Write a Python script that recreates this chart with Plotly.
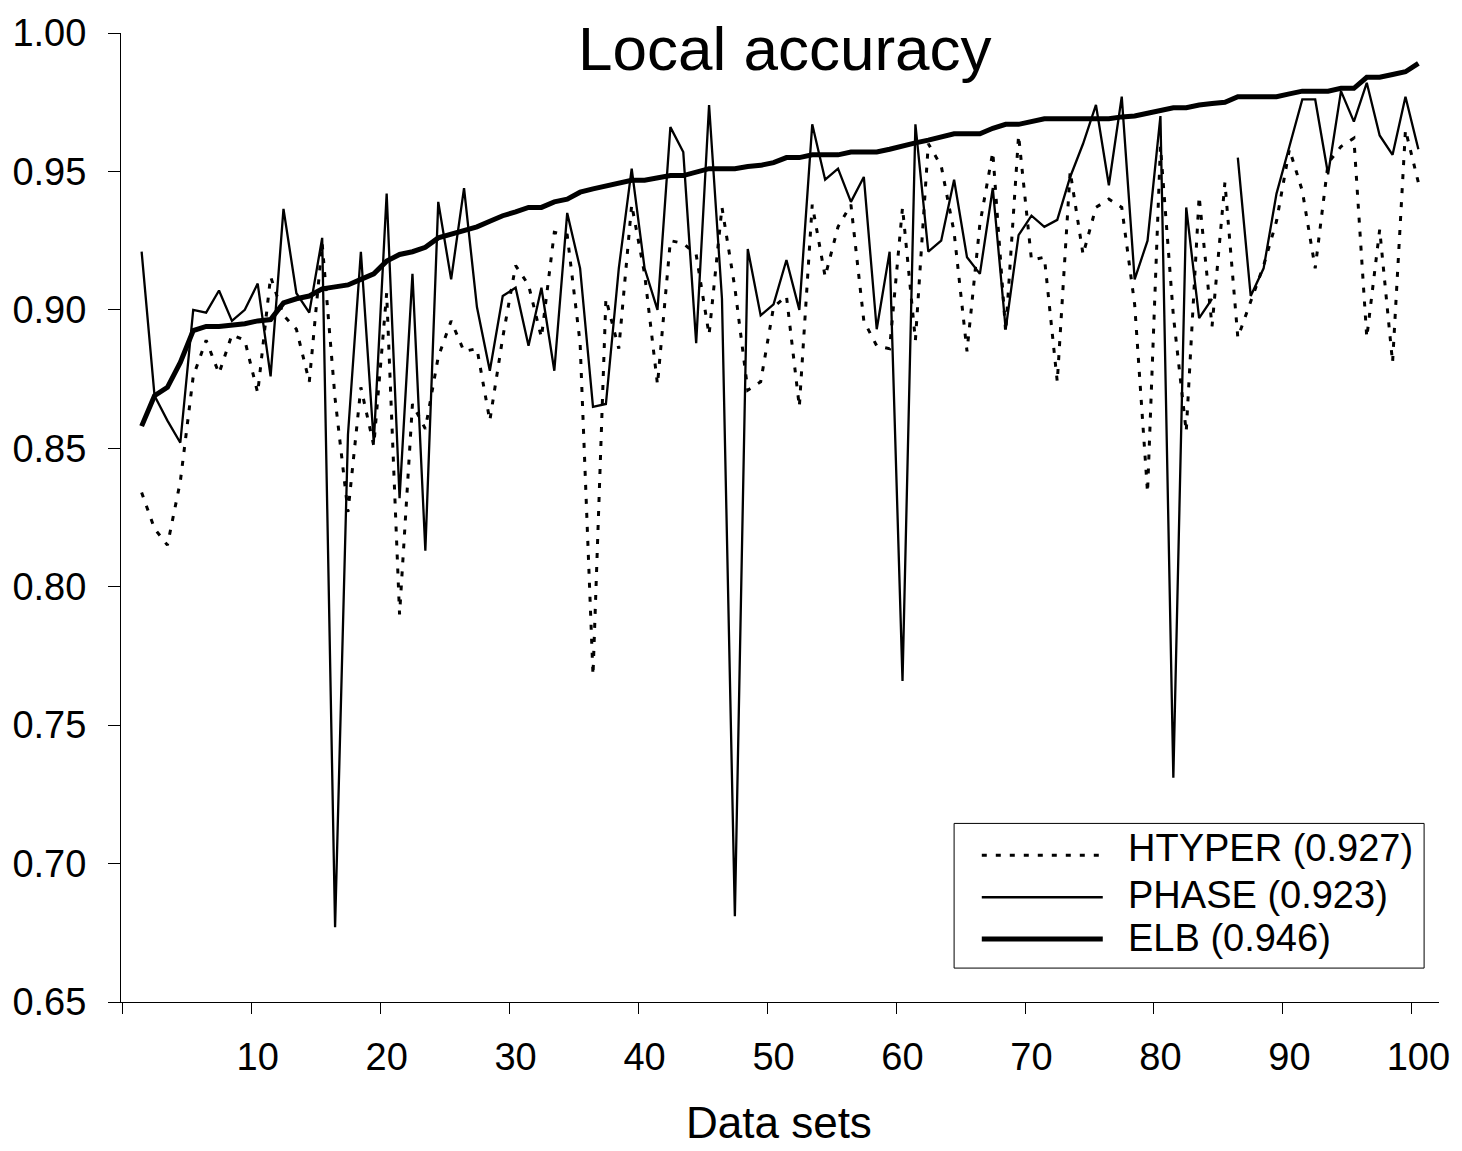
import plotly.graph_objects as go

# ---------------- data ----------------
datasets = list(range(1, 101))

htyper = [0.834, 0.821, 0.815, 0.838, 0.876, 0.889, 0.877, 0.891, 0.889, 0.870,
          0.912, 0.898, 0.893, 0.874, 0.924, 0.868, 0.827, 0.872, 0.851, 0.906,
          0.790, 0.866, 0.857, 0.883, 0.896, 0.885, 0.886, 0.860, 0.890, 0.916,
          0.909, 0.890, 0.928, 0.927, 0.888, 0.768, 0.904, 0.886, 0.938, 0.913,
          0.873, 0.925, 0.924, 0.920, 0.891, 0.937, 0.908, 0.871, 0.874, 0.901,
          0.905, 0.865, 0.938, 0.912, 0.930, 0.938, 0.896, 0.887, 0.886, 0.937,
          0.889, 0.960, 0.952, 0.928, 0.885, 0.931, 0.957, 0.892, 0.963, 0.918,
          0.919, 0.874, 0.950, 0.920, 0.937, 0.940, 0.937, 0.902, 0.834, 0.959,
          0.898, 0.856, 0.941, 0.894, 0.946, 0.890, 0.903, 0.916, 0.932, 0.958,
          0.943, 0.915, 0.953, 0.959, 0.962, 0.890, 0.929, 0.881, 0.965, 0.946]

phase = [0.921, 0.869, 0.860, 0.852, 0.900, 0.899, 0.907, 0.896, 0.900, 0.9095,
         0.876, 0.9365, 0.906, 0.899, 0.926, 0.677, 0.855, 0.921, 0.852, 0.942,
         0.832, 0.913, 0.813, 0.939, 0.911, 0.944, 0.901, 0.878, 0.905, 0.908,
         0.887, 0.908, 0.878, 0.935, 0.915, 0.865, 0.866, 0.915, 0.951, 0.915,
         0.900, 0.966, 0.957, 0.888, 0.974, 0.904, 0.681, 0.922, 0.898, 0.902,
         0.918, 0.900, 0.967, 0.947, 0.951, 0.939, 0.948, 0.893, 0.921, 0.766,
         0.967, 0.921, 0.925, 0.947, 0.919, 0.913, 0.944, 0.893, 0.927, 0.934,
         0.930, 0.9325, 0.948, 0.960, 0.974, 0.945, 0.977, 0.911, 0.925, 0.970,
         0.731, 0.937, 0.897, 0.904, None, 0.955, 0.905, 0.915, 0.942, 0.959,
         0.976, 0.976, 0.949, 0.979, 0.968, 0.982, 0.963, 0.956, 0.977, 0.958]

elb = [0.858, 0.869, 0.872, 0.881, 0.8925, 0.894, 0.894, 0.8945, 0.895, 0.896,
       0.8965, 0.9025, 0.904, 0.905, 0.9076, 0.9083, 0.909, 0.911, 0.913, 0.9176,
       0.920, 0.921, 0.9226, 0.926, 0.9273, 0.9286, 0.930, 0.932, 0.934, 0.9354,
       0.937, 0.937, 0.939, 0.940, 0.9425, 0.9437, 0.9447, 0.946, 0.9468, 0.9468,
       0.9475, 0.9485, 0.9485, 0.9496, 0.951, 0.951, 0.951, 0.9518, 0.9522, 0.9532,
       0.955, 0.955, 0.956, 0.956, 0.956, 0.957, 0.957, 0.957, 0.958, 0.9593,
       0.9603, 0.9613, 0.9625, 0.9636, 0.9636, 0.9636, 0.9656, 0.967, 0.967, 0.968,
       0.969, 0.969, 0.969, 0.969, 0.969, 0.969, 0.9697, 0.970, 0.971, 0.972,
       0.973, 0.973, 0.974, 0.9745, 0.975, 0.977, 0.977, 0.977, 0.977, 0.978,
       0.979, 0.979, 0.979, 0.980, 0.980, 0.984, 0.984, 0.985, 0.986, 0.989]

series_names = ["HTYPER (0.927)", "PHASE (0.923)", "ELB (0.946)"]
x_tick_values = [10, 20, 30, 40, 50, 60, 70, 80, 90, 100]
y_tick_values = [0.65, 0.70, 0.75, 0.80, 0.85, 0.90, 0.95, 1.00]
title_text = "Local accuracy"
x_title_text = "Data sets"

FONT = "Liberation Sans, Arial, Helvetica, sans-serif"

# ---------------- figure ----------------
styles = [
    dict(color="black", width=3, dash="5px,9px"),
    dict(color="black", width=2.3),
    dict(color="black", width=5),
]

fig = go.Figure()
for name, values, st in zip(series_names, [htyper, phase, elb], styles):
    fig.add_trace(go.Scatter(x=datasets, y=values, mode="lines", name=name,
                             line=st, connectgaps=False, showlegend=False))

fig.update_layout(
    width=1462, height=1151,
    margin=dict(l=117, r=16, t=31, b=149, pad=0),
    paper_bgcolor="white", plot_bgcolor="white",
    font=dict(family=FONT, color="black"),
    showlegend=False,
)

fig.update_xaxes(
    range=[-0.6, 101.6], tickmode="array", tickvals=x_tick_values,
    ticktext=[str(v) for v in x_tick_values], ticks="",
    ticklabelstandoff=21,
    showline=True, linecolor="black", linewidth=1,
    showgrid=False, zeroline=False, tickfont=dict(size=38, family=FONT),
    minor=dict(tickmode="linear", tick0=-0.5, dtick=10, ticks="outside",
               ticklen=11, tickcolor="black", tickwidth=1, showgrid=False),
)
fig.update_yaxes(
    range=[0.65, 1.0], tickmode="array", tickvals=y_tick_values,
    tickformat=".2f", ticks="outside", ticklen=12, tickcolor="black", tickwidth=1,
    ticklabelstandoff=14,
    showline=True, linecolor="black", linewidth=1,
    showgrid=False, zeroline=False, tickfont=dict(size=38, family=FONT),
)

# title and axis title
fig.add_annotation(text=title_text, x=0.504, y=0.9835, xref="paper", yref="paper",
                   xanchor="center", yanchor="middle", showarrow=False,
                   font=dict(size=62, family=FONT, color="black"))
fig.add_annotation(text=x_title_text, x=0.4996, y=-0.1246, xref="paper", yref="paper",
                   xanchor="center", yanchor="middle", showarrow=False,
                   font=dict(size=44, family=FONT, color="black"))

# legend box
fig.add_shape(type="rect", xref="paper", yref="paper",
              x0=0.6321, x1=0.9887, y0=0.0350, y1=0.1843,
              line=dict(color="black", width=1), fillcolor="white", layer="above")
leg_line_y = [0.1514, 0.1081, 0.0649]
leg_text_y = [0.1586, 0.1102, 0.0659]
for name, st, ly, ty in zip(series_names, styles, leg_line_y, leg_text_y):
    fig.add_shape(type="line", xref="paper", yref="paper",
                  x0=0.6531, x1=0.7449, y0=ly, y1=ly, line=st, layer="above")
    fig.add_annotation(text=name, x=0.7622, y=ty, xref="paper", yref="paper",
                       xanchor="left", yanchor="middle", showarrow=False,
                       font=dict(size=38, family=FONT, color="black"))

fig.write_html("out.html")
